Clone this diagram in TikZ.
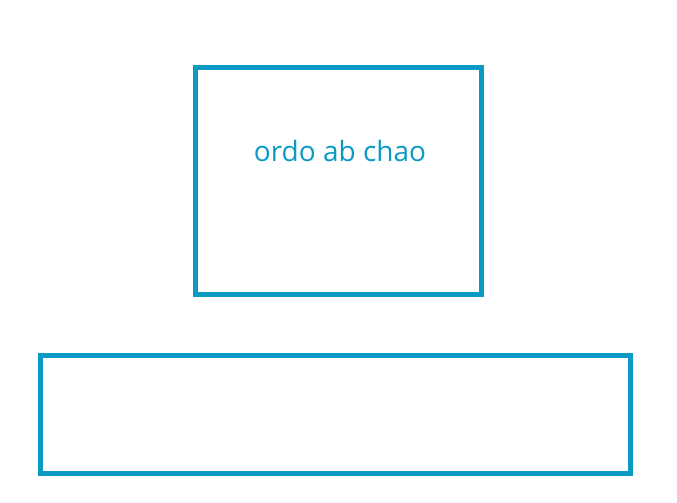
\documentclass[tikz,border=0pt]{standalone}
\usepackage{fontspec}
\setmainfont{Open Sans}
\definecolor{boxblue}{HTML}{0A9AC4}
\begin{document}
\begin{tikzpicture}[x=1pt,y=-1pt,
  framebox/.style={draw=boxblue,line width=5pt},
  lbl/.style={text=boxblue,font=\fontsize{28}{33}\selectfont,inner sep=0pt}]
\useasboundingbox (0,0) rectangle (677,503);
\draw[framebox] (195.5,67.5) rectangle (481.5,294);
\node[lbl] (t) at (340,151) {ordo ab chao};
\draw[framebox] (40,355.5) rectangle (630,473);
\end{tikzpicture}
\end{document}
